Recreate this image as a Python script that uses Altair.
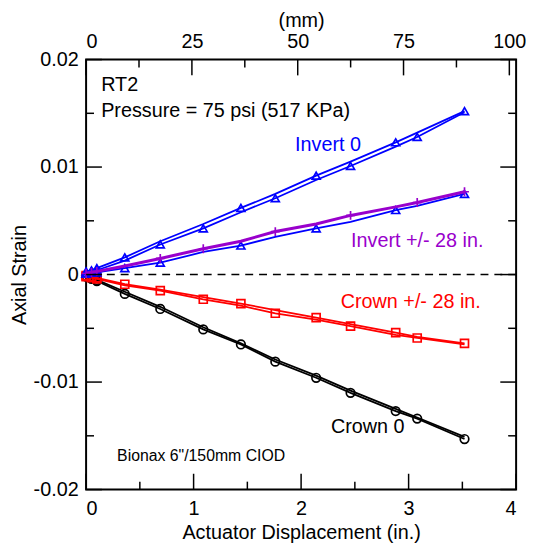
import altair as alt
import pandas as pd

# ---------------- data ----------------
X_IN = [0, 0.05, 0.1, 0.36, 0.69, 1.09, 1.44, 1.76, 2.14, 2.46, 2.88, 3.08, 3.52]

INV0_A = [0.0003, 0.0004, 0.0006, 0.0016, 0.0031, 0.0047, 0.0062, 0.0075, 0.0092, 0.0105, 0.0123, 0.0132, 0.0152]
INV0_B = [0.0001, 0.0003, 0.0004, 0.0013, 0.0028, 0.0043, 0.0058, 0.0071, 0.0088, 0.0101, 0.0119, 0.0128, 0.0151]
INV28_P = [0.0001, 0.0002, 0.0003, 0.0008, 0.0015, 0.0024, 0.0031, 0.0040, 0.0047, 0.0055, 0.0063, 0.0067, 0.0077]
INV28_B = [0.0001, 0.0002, 0.0002, 0.0006, 0.0011, 0.0021, 0.0027, 0.0035, 0.0043, 0.0049, 0.0060, 0.0064, 0.0075]
CR28_A = [-0.0001, -0.0002, -0.0003, -0.0009, -0.0014, -0.0021, -0.0027, -0.0033, -0.0040, -0.0046, -0.0054, -0.0058, -0.0064]
CR28_B = [-0.0002, -0.0003, -0.0004, -0.0010, -0.0015, -0.0023, -0.0029, -0.0036, -0.0042, -0.0048, -0.0056, -0.0059, -0.0065]
CR0_A = [-0.0002, -0.0004, -0.0006, -0.0018, -0.0032, -0.0051, -0.0065, -0.0081, -0.0096, -0.0110, -0.0127, -0.0134, -0.0153]
CR0_B = [-0.0001, -0.0003, -0.0005, -0.0016, -0.0030, -0.0049, -0.0064, -0.0079, -0.0094, -0.0108, -0.0125, -0.0133, -0.0151]

# indices of the points that carry a marker
MK_ODD = [0, 1, 2, 3, 6, 8, 10, 12]
MK_EVEN = [0, 1, 2, 4, 5, 7, 9, 11]
MK_PURPLE = [0, 1, 2, 4, 5, 7, 9, 11, 12]
MK_BLUE28 = [0, 1, 2, 3, 4, 6, 8, 10, 12]
MK_ALL = list(range(13))
MK_ORIGIN = [0, 1, 2]

X_MAJOR = [0, 1, 2, 3, 4]
X_MINOR = [0.5, 1.5, 2.5, 3.5]
MM_MAJOR = [0, 25, 50, 75, 100]
MM_MINOR = [12.5, 37.5, 62.5, 87.5]
Y_MAJOR = [-0.02, -0.01, 0, 0.01, 0.02]
Y_MINOR = [-0.015, -0.005, 0.005, 0.015]

LABELS_LEFT = ["RT2", "Pressure = 75 psi (517 KPa)"]
LABELS_LEFT_X = [0.14, 0.14]
LABELS_LEFT_Y = [0.0176, 0.01525]
LABELS_C = ["Invert 0", "Invert +/- 28 in.", "Crown +/- 28 in.", "Crown 0", 'Bionax 6"/150mm CIOD']
LABELS_C_X = [2.25, 3.08, 3.02, 2.62, 1.07]
LABELS_C_Y = [0.01205, 0.00313, -0.00257, -0.01416, -0.01692]
LABELS_C_COL = ["#0000ff", "#9900cc", "#ff0000", "#000000", "#000000"]
LABELS_C_SIZE = [20, 20, 20, 20, 16]

W = 435
H = 435
FONT = "Liberation Sans"
FS = 20
MAJ = 16
MIN = 8

PURPLE = "#9900cc"
PLUS = "M-1,0L1,0M0,-1L0,1"

# (ys, colour, shape, marker indices, line width, marker size)
SERIES = [
    (CR0_B, "#000000", "circle", MK_ORIGIN, 1.8, 75),
    (CR0_A, "#000000", "circle", MK_ALL, 1.8, 75),
    (CR28_B, "#ff0000", "square", MK_EVEN, 1.8, 65),
    (CR28_A, "#ff0000", "square", MK_ODD, 1.8, 65),
    (INV0_B, "#0000ff", "triangle-up", MK_EVEN, 1.8, 65),
    (INV0_A, "#0000ff", "triangle-up", MK_ODD, 1.8, 65),
    (INV28_B, "#0000ff", "triangle-up", MK_BLUE28, 1.8, 65),
    (INV28_P, PURPLE, PLUS, MK_PURPLE, 3.0, 80),
]

xscale = alt.Scale(domain=[0, 4], nice=False, zero=False)
yscale = alt.Scale(domain=[-0.02, 0.02], nice=False, zero=False)

x_axis = alt.Axis(orient="bottom", values=X_MAJOR, ticks=False, domain=False, grid=False,
                  labelFontSize=FS, labelPadding=9, labelColor="black", format="d",
                  title="Actuator Displacement (in.)", titleFontSize=FS,
                  titleFontWeight="normal", titlePadding=5, titleColor="black")
y_axis = alt.Axis(values=Y_MAJOR, ticks=False, domain=False, grid=False,
                  labelFontSize=FS, labelPadding=8, labelColor="black",
                  labelExpr="datum.value == 0 ? '0' : (datum.value < 0 ? '-' + format(-datum.value, '.2f') : format(datum.value, '.2f'))",
                  title="Axial Strain", titleFontSize=FS, titleFontWeight="normal",
                  titlePadding=4, titleColor="black")


def X(field):
    return alt.X(field, type="quantitative", scale=xscale, axis=x_axis)


def Y(field):
    return alt.Y(field, type="quantitative", scale=yscale, axis=y_axis)


layers = []

# dashed zero line
layers.append(
    alt.Chart(pd.DataFrame({"y": [0.0]}))
    .mark_rule(color="black", strokeDash=[8, 6], strokeWidth=1.5)
    .encode(y=Y("y"))
)

# data lines + markers
for ys, col, shape, mk, lw, ms in SERIES:
    df = pd.DataFrame({"x": X_IN, "y": ys})
    layers.append(
        alt.Chart(df).mark_line(color=col, strokeWidth=lw).encode(x=X("x"), y=Y("y"))
    )
    dm = pd.DataFrame({"x": [X_IN[i] for i in mk], "y": [ys[i] for i in mk]})
    layers.append(
        alt.Chart(dm)
        .mark_point(shape=shape, filled=False, color=col, size=ms, strokeWidth=1.7, opacity=1)
        .encode(x=X("x"), y=Y("y"))
    )

# inward tick marks
def xticks(vals, y0, y1, conv=None):
    df = pd.DataFrame({"v": vals})
    ch = alt.Chart(df)
    if conv:
        ch = ch.transform_calculate(v="datum.v / 25.4")
    return ch.mark_rule(color="black", strokeWidth=1.5).encode(
        x=X("v"), y=alt.value(y0), y2=alt.value(y1))


def yticks(vals, x0, x1):
    df = pd.DataFrame({"v": vals})
    return alt.Chart(df).mark_rule(color="black", strokeWidth=1.5).encode(
        y=Y("v"), x=alt.value(x0), x2=alt.value(x1))


layers += [
    xticks(X_MAJOR, H, H - MAJ),
    xticks(X_MINOR, H, H - MIN),
    xticks(MM_MAJOR, 0, MAJ, conv=True),
    xticks(MM_MINOR, 0, MIN, conv=True),
    yticks(Y_MAJOR, 0, MAJ),
    yticks(Y_MINOR, 0, MIN),
    yticks(Y_MAJOR, W, W - MAJ),
    yticks(Y_MINOR, W, W - MIN),
]

# annotations
ann_l = pd.DataFrame({"t": LABELS_LEFT, "x": LABELS_LEFT_X, "y": LABELS_LEFT_Y})
layers.append(
    alt.Chart(ann_l).mark_text(align="left", baseline="middle", fontSize=FS, font=FONT, color="black")
    .encode(x=X("x"), y=Y("y"), text="t:N")
)
ann_c = pd.DataFrame({"t": LABELS_C, "x": LABELS_C_X, "y": LABELS_C_Y,
                      "c": LABELS_C_COL, "s": LABELS_C_SIZE})
layers.append(
    alt.Chart(ann_c).mark_text(align="center", baseline="middle", font=FONT)
    .encode(x=X("x"), y=Y("y"), text="t:N",
            color=alt.Color("c:N", scale=None),
            size=alt.Size("s:Q", scale=None))
)

main = alt.layer(*layers)

# top (mm) axis
mm_layer = (
    alt.Chart(pd.DataFrame({"mm": MM_MAJOR}))
    .mark_point(opacity=0)
    .encode(x=alt.X("mm:Q", scale=alt.Scale(domain=[0, 101.6], nice=False, zero=False),
                    axis=alt.Axis(orient="top", values=MM_MAJOR, ticks=False, domain=False,
                                  grid=False, labelFontSize=FS, labelPadding=8,
                                  labelColor="black", title="(mm)", titleFontSize=FS,
                                  titleFontWeight="normal", titlePadding=1,
                                  titleColor="black")))
)

chart = (
    alt.layer(main, mm_layer)
    .resolve_scale(x="independent")
    .properties(width=W, height=H,
                autosize=alt.AutoSizeParams(type="none"),
                padding={"left": 79, "top": 49, "right": 10, "bottom": 60},
                background="white")
    .configure_view(stroke="black", strokeWidth=2)
    .configure_axis(labelFont=FONT, titleFont=FONT)
    .configure_text(font=FONT)
)

chart.save("out.html", embed_options={"renderer": "svg", "actions": False})
